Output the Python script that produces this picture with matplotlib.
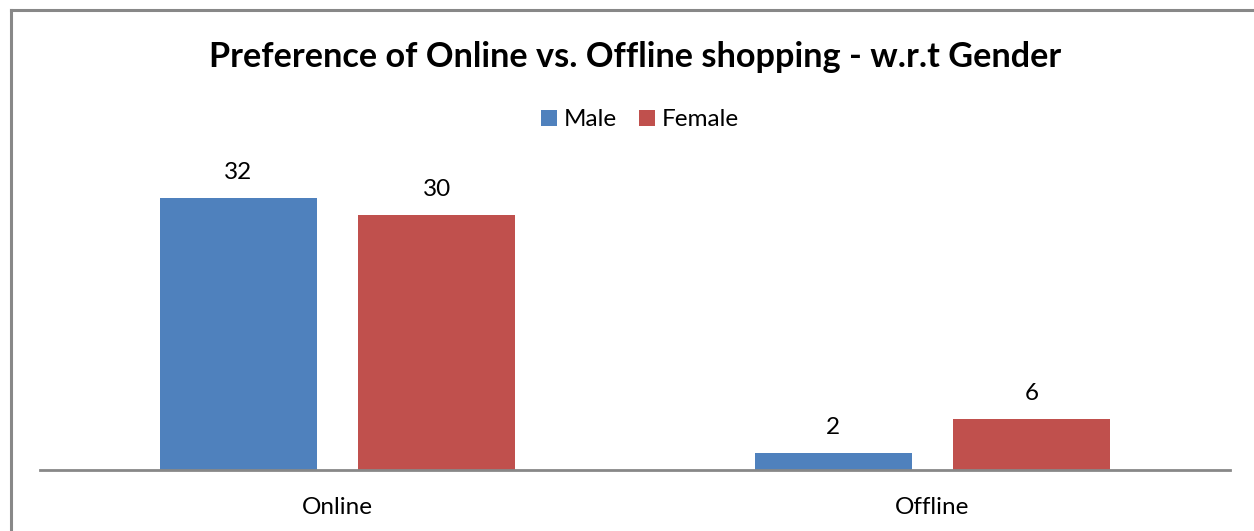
import matplotlib.pyplot as plt
import numpy as np
from matplotlib.lines import Line2D

plt.rcParams['font.family'] = ['Lato', 'DejaVu Sans']

categories = ["Online", "Offline"]
male = [32, 2]
female = [30, 6]
series_names = ["Male", "Female"]
colors = ["#4F81BD", "#C0504D"]

W, H = 1254, 531
fig = plt.figure(figsize=(W / 100, H / 100), dpi=100)

# chart frame (top and left edges only)
fig.add_artist(Line2D([11 / W, 1], [1 - 10 / H, 1 - 10 / H], color="#888888", lw=2.2,
                      transform=fig.transFigure))
fig.add_artist(Line2D([11 / W, 11 / W], [0, 1 - 10 / H], color="#888888", lw=2.2,
                      transform=fig.transFigure))

ax = fig.add_axes([40 / W, (H - 470) / H, 1190 / W, 297.5 / H])
x = np.arange(len(categories))
width = 0.264
offset = 0.167

for vals, name, col, off in zip([male, female], series_names, colors, [-offset, offset]):
    bars = ax.bar(x + off, vals, width, color=col, label=name)
    for b, v in zip(bars, vals):
        ax.annotate(str(v), (b.get_x() + b.get_width() / 2, v), xytext=(0, 26),
                    textcoords="offset pixels",
                    ha="center", va="center", fontsize=17.5, color="black")

ax.set_xlim(-0.5, 1.5)
ax.set_ylim(0, 35)
ax.set_xticks(x)
ax.set_xticklabels(categories, fontsize=17.5)
ax.tick_params(axis="x", length=0, pad=19.5)
ax.set_yticks([])
for s in ["top", "right", "left"]:
    ax.spines[s].set_visible(False)
ax.spines["bottom"].set_color("#888888")
ax.spines["bottom"].set_linewidth(2)

fig.text(635 / W, 1 - 57 / H, "Preference of Online vs. Offline shopping - w.r.t Gender",
         ha="center", va="center", fontsize=24.7, fontweight="bold")

fig.legend(loc="center", bbox_to_anchor=(640 / W, 1 - 120 / H), ncol=2, frameon=False,
           fontsize=17.5, handlelength=0.65, handleheight=0.65, handletextpad=0.3,
           columnspacing=0.9)

fig.savefig("out.png", dpi=100)
